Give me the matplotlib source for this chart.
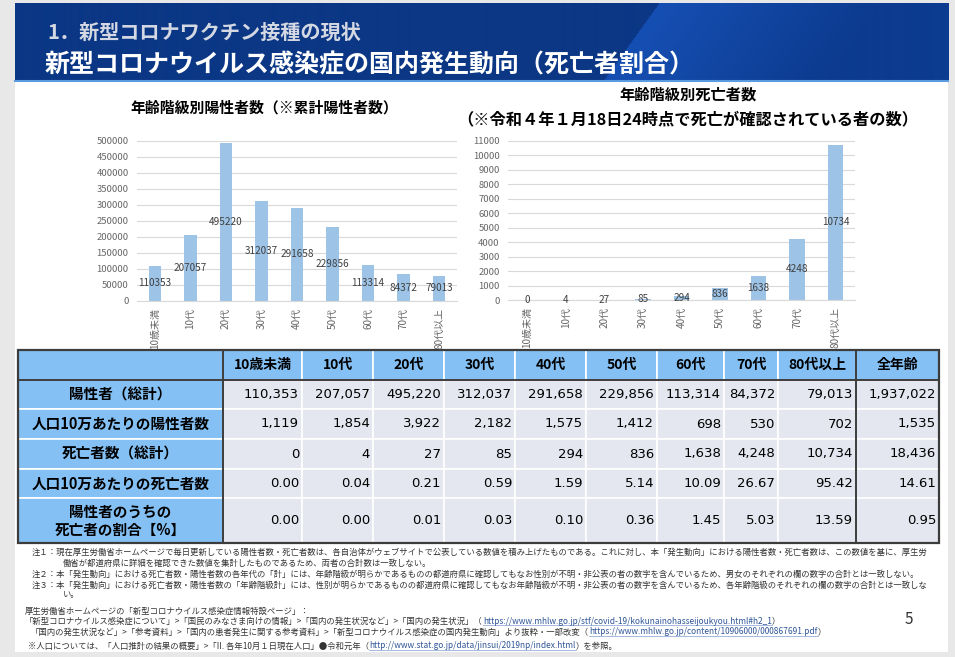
import matplotlib
matplotlib.use("Agg")
import matplotlib.pyplot as plt
import numpy as np
from matplotlib.patches import Rectangle
from matplotlib.colors import to_rgb

plt.rcParams["font.family"] = ["Noto Sans CJK JP", "DejaVu Sans"]

# data
age_groups = ["10歳未満", "10代", "20代", "30代", "40代", "50代", "60代", "70代", "80代以上"]
col_labels = age_groups + ["全年齢"]
positives = [110353, 207057, 495220, 312037, 291658, 229856, 113314, 84372, 79013, 1937022]
pos_per100k = [1119, 1854, 3922, 2182, 1575, 1412, 698, 530, 702, 1535]
deaths = [0, 4, 27, 85, 294, 836, 1638, 4248, 10734, 18436]
death_per100k = [0.00, 0.04, 0.21, 0.59, 1.59, 5.14, 10.09, 26.67, 95.42, 14.61]
death_ratio = [0.00, 0.00, 0.01, 0.03, 0.10, 0.36, 1.45, 5.03, 13.59, 0.95]
row_labels = ["陽性者（総計）", "人口10万あたりの陽性者数", "死亡者数（総計）",
              "人口10万あたりの死亡者数", "陽性者のうちの\n死亡者の割合【%】"]

W, H = 955, 657
fig = plt.figure(figsize=(W / 100, H / 100), dpi=100)
fig.patch.set_facecolor("#e8e8e8")

bg = fig.add_axes([0, 0, 1, 1])
bg.set_xlim(0, W)
bg.set_ylim(H, 0)
bg.axis("off")
bg.add_patch(Rectangle((15, 3), 933, 649, facecolor="white", edgecolor="none"))

# header band with a lighter diagonal sheen
hx0, hx1, hy0, hy1 = 15, 948, 3, 80
xs = np.arange(hx0, hx1)
ys = np.arange(hy0, hy1)
X, Y = np.meshgrid(xs, ys)
d = X - (658 - (Y - hy0) * 55 / 77)
navy = np.array(to_rgb("#0b3785"))
bright = np.array(to_rgb("#164fb3"))
far = np.array(to_rgb("#0c3b8f"))
t = np.clip(d / 220, 0, 1)[..., None]
img = np.where(d[..., None] < 0, navy, bright * (1 - t) + far * t)
bg.imshow(img, extent=[hx0, hx1, hy1, hy0], aspect="auto", zorder=1)
bg.plot([hx0, hx1], [hy1 + 0.5, hy1 + 0.5], color="#5d9be0", lw=1.5, zorder=2)

bg.text(47, 32, "1．新型コロナワクチン接種の現状", color="#d3d8e3", fontsize=14.5,
        fontweight="bold", va="center", zorder=3)
bg.text(45, 65, "新型コロナウイルス感染症の国内発生動向（死亡者割合）", color="white",
        fontsize=18, fontweight="bold", va="center", zorder=3)

# chart titles
bg.text(264, 108, "年齢階級別陽性者数（※累計陽性者数）", fontsize=10.7,
        fontweight="bold", ha="center", va="center")
bg.text(688, 95, "年齢階級別死亡者数", fontsize=11, fontweight="bold",
        ha="center", va="center")
bg.text(688, 119, "（※令和４年１月18日24時点で死亡が確認されている者の数）",
        fontsize=11.7, fontweight="bold", ha="center", va="center")


def px_axes(x0, y0, x1, y1):
    return fig.add_axes([x0 / W, 1 - y1 / H, (x1 - x0) / W, (y1 - y0) / H])


def bar_chart(ax, values, ymax, step, width):
    x = np.arange(len(age_groups))
    bars = ax.bar(x, values, width=width, color="#9dc3e6", zorder=2)
    ax.set_xlim(-0.5, len(age_groups) - 0.5)
    ax.set_ylim(0, ymax)
    ax.set_yticks(np.arange(0, ymax + 1, step))
    ax.set_xticks(x)
    ax.set_xticklabels(age_groups, rotation=90, fontsize=7.2, color="#666666")
    ax.tick_params(axis="y", length=0, pad=6, labelsize=6.8, labelcolor="#666666")
    ax.tick_params(axis="x", length=0, pad=5)
    ax.grid(axis="y", color="#d9d9d9", lw=0.8, zorder=0)
    for s in ["top", "right", "left"]:
        ax.spines[s].set_visible(False)
    ax.spines["bottom"].set_color("#d9d9d9")
    ax.bar_label(bars, fmt="%d", label_type="center", fontsize=7.2, color="#404040")
    ax.patch.set_alpha(0)


ax1 = px_axes(137, 141, 457, 301)
bar_chart(ax1, positives[:9], 500000, 50000, 0.35)
ax2 = px_axes(508, 141, 855, 300)
bar_chart(ax2, deaths[:9], 11000, 1000, 0.4)

# table
col_edges = [18, 223, 302, 373, 444, 515, 586, 657, 724, 778, 856, 939]
row_edges = [350, 380, 409, 439, 469, 498, 543]
blue = "#84c0f3"
grey = "#e4e7ef"
rows = [
    [f"{v:,}" for v in positives],
    [f"{v:,}" for v in pos_per100k],
    [f"{v:,}" for v in deaths],
    [f"{v:.2f}" for v in death_per100k],
    [f"{v:.2f}" for v in death_ratio],
]
for r in range(len(row_edges) - 1):
    for c in range(len(col_edges) - 1):
        x0, x1 = col_edges[c], col_edges[c + 1]
        y0, y1 = row_edges[r], row_edges[r + 1]
        fc = blue if (r == 0 or c == 0) else grey
        bg.add_patch(Rectangle((x0, y0), x1 - x0, y1 - y0, facecolor=fc,
                               edgecolor="white", lw=1.2))
        ym = (y0 + y1) / 2
        if r == 0 and c > 0:
            bg.text((x0 + x1) / 2, ym, col_labels[c - 1], fontsize=10,
                    fontweight="bold", ha="center", va="center")
        elif r > 0 and c == 0:
            bg.text((x0 + x1) / 2, ym, row_labels[r - 1], fontsize=10.5,
                    fontweight="bold", ha="center", va="center", linespacing=1.15)
        elif r > 0:
            bg.text(x1 - 3, ym, rows[r - 1][c - 1], fontsize=9.5,
                    family="DejaVu Sans", ha="right", va="center")

dark = "#3c3c3c"
bg.add_patch(Rectangle((col_edges[0], row_edges[0]), col_edges[-1] - col_edges[0],
                       row_edges[-1] - row_edges[0], facecolor="none",
                       edgecolor=dark, lw=1.6))
bg.plot([col_edges[0], col_edges[-1]], [row_edges[1]] * 2, color=dark, lw=1.4)
for xe in (col_edges[1], col_edges[-2]):
    bg.plot([xe, xe], [row_edges[0], row_edges[-1]], color=dark, lw=1.4)

# notes
note_fs = 6.0
notes = [
    (32, 552, "注１：現在厚生労働省ホームページで毎日更新している陽性者数・死亡者数は、各自治体がウェブサイトで公表している数値を積み上げたものである。これに対し、本「発生動向」における陽性者数・死亡者数は、この数値を基に、厚生労"),
    (63, 563, "働省が都道府県に詳細を確認できた数値を集計したものであるため、両者の合計数は一致しない。"),
    (32, 574, "注２：本「発生動向」における死亡者数・陽性者数の各年代の「計」には、年齢階級が明らかであるものの都道府県に確認してもなお性別が不明・非公表の者の数字を含んでいるため、男女のそれぞれの欄の数字の合計とは一致しない。"),
    (32, 585, "注３：本「発生動向」における死亡者数・陽性者数の「年齢階級計」には、性別が明らかであるものの都道府県に確認してもなお年齢階級が不明・非公表の者の数字を含んでいるため、各年齢階級のそれぞれの欄の数字の合計とは一致しな"),
    (63, 595, "い。"),
]
for x, y, s in notes:
    bg.text(x, y, s, fontsize=note_fs, color="#333333", va="center")

renderer = fig.canvas.get_renderer()


def segments(x, y, parts):
    for s, is_url in parts:
        txt = bg.text(x, y, s, fontsize=note_fs, va="center",
                      color="#2f5597" if is_url else "#333333")
        ext = txt.get_window_extent(renderer)
        if is_url:
            bg.plot([ext.x0, ext.x1], [y + 4, y + 4], color="#7f9fd0", lw=0.5)
        x = ext.x1


segments(25, 611, [("厚生労働省ホームページの「新型コロナウイルス感染症情報特設ページ」：", False)])
segments(25, 621, [("「新型コロナウイルス感染症について」>「国民のみなさま向けの情報」>「国内の発生状況など」>「国内の発生状況」（", False),
                   ("https://www.mhlw.go.jp/stf/covid-19/kokunainohasseijoukyou.html#h2_1", True),
                   ("）", False)])
segments(31, 632, [("「国内の発生状況など」>「参考資料」>「国内の患者発生に関する参考資料」>「新型コロナウイルス感染症の国内発生動向」より抜粋・一部改変（", False),
                   ("https://www.mhlw.go.jp/content/10906000/000867691.pdf", True),
                   ("）", False)])
segments(28, 646, [("※人口については、「人口推計の結果の概要」>「II. 各年10月１日現在人口」●令和元年（", False),
                   ("http://www.stat.go.jp/data/jinsui/2019np/index.html", True),
                   ("）を参照。", False)])

bg.text(909, 619, "5", fontsize=11, color="#333333", ha="center", va="center")

fig.savefig("out.png", dpi=100, facecolor=fig.get_facecolor())
